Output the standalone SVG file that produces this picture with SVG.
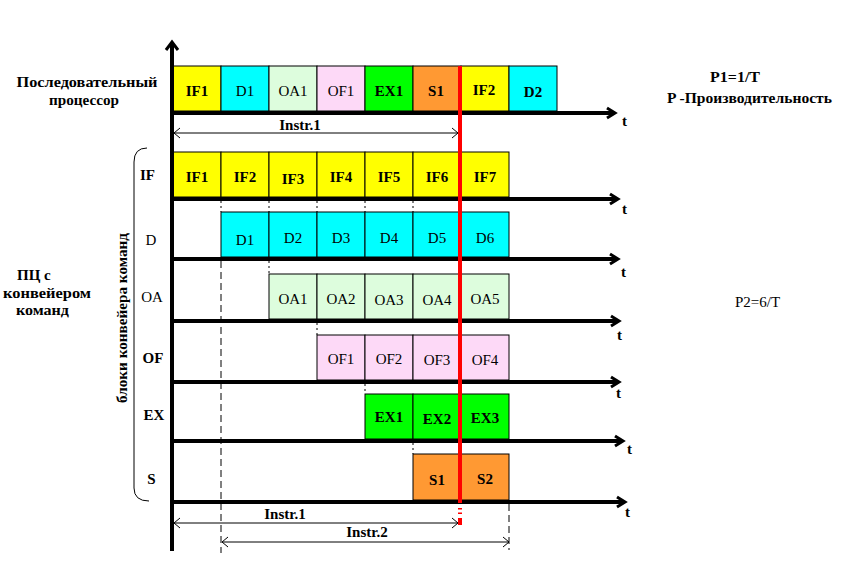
<svg xmlns="http://www.w3.org/2000/svg" width="852" height="574" viewBox="0 0 852 574">
<defs>
<style>
.cell{stroke:#000;stroke-width:1}
.y{fill:#FFFF00}.c{fill:#00FFFF}.lg{fill:#DDFDDD}.pk{fill:#FDD9F7}.g{fill:#00FF00}.o{fill:#FF9933}
text{font-family:"Liberation Serif","Times New Roman",serif;font-size:15px;fill:#000}
.b{font-weight:bold}
.m{text-anchor:middle}
.axis{stroke:#000;stroke-width:4;fill:none}
.ah{fill:none;stroke:#000;stroke-width:3}
.dot{stroke:#000;stroke-width:1;stroke-dasharray:2,3;fill:none}
.dash{stroke:#000;stroke-width:1;stroke-dasharray:7,4;fill:none}
.thin{stroke:#000;stroke-width:1;fill:none}
</style>
<marker id="open" viewBox="-8 -6 9 12" markerWidth="9" markerHeight="12" refX="0" refY="0" orient="auto-start-reverse" markerUnits="userSpaceOnUse">
<path d="M-6,-5 L0,0 L-6,5" fill="none" stroke="#000" stroke-width="1"/>
</marker>
</defs>
<rect x="0" y="0" width="852" height="574" fill="#fff"/>

<!-- Labels -->
<g id="labels">
<text class="b m" x="87" y="87" textLength="141" lengthAdjust="spacingAndGlyphs">Последовательный</text>
<text class="b m" x="84" y="105" textLength="70" lengthAdjust="spacingAndGlyphs">процессор</text>
<text class="b" x="17" y="280">ПЦ с</text>
<text class="b" x="3" y="298" textLength="88" lengthAdjust="spacingAndGlyphs">конвейером</text>
<text class="b" x="16" y="315" textLength="53" lengthAdjust="spacingAndGlyphs">команд</text>
<text class="b" x="710" y="82" textLength="50" lengthAdjust="spacingAndGlyphs">P1=1/T</text>
<text class="b" x="667" y="103" textLength="165" lengthAdjust="spacingAndGlyphs">P -Производительность</text>
<text x="735" y="307">P2=6/T</text>
<text class="b m" transform="translate(127,318) rotate(-90)" textLength="170" lengthAdjust="spacingAndGlyphs">блоки конвейера команд</text>
<text class="b m" x="147.5" y="180">IF</text>
<text class="m" x="151" y="245">D</text>
<text class="m" x="152" y="302">OA</text>
<text class="b m" x="153" y="363">OF</text>
<text class="b m" x="154" y="420">EX</text>
<text class="b m" x="151.5" y="484">S</text>
<text class="b" x="622" y="126">t</text>
<text class="b" x="622" y="214">t</text>
<text class="b" x="621" y="277">t</text>
<text class="b" x="617" y="340">t</text>
<text class="b" x="616" y="398">t</text>
<text class="b" x="627" y="454">t</text>
<text class="b" x="625" y="517">t</text>
<text class="b m" x="300" y="130">Instr.1</text>
<text class="b m" x="285" y="519">Instr.1</text>
<text class="b m" x="367" y="537">Instr.2</text>
</g>

<!-- Sequential processor row -->
<g id="seq-IF1"><rect class="cell y" x="173" y="66" width="48" height="45"/><text class="b m" x="197" y="96">IF1</text></g>
<g id="seq-D1"><rect class="cell c" x="221" y="66" width="48" height="45"/><text class="m" x="245" y="96">D1</text></g>
<g id="seq-OA1"><rect class="cell lg" x="269" y="66" width="48" height="45"/><text class="m" x="293" y="96">OA1</text></g>
<g id="seq-OF1"><rect class="cell pk" x="317" y="66" width="48" height="45"/><text class="m" x="341" y="96">OF1</text></g>
<g id="seq-EX1"><rect class="cell g" x="365" y="66" width="48" height="45"/><text class="b m" x="389" y="96">EX1</text></g>
<g id="seq-S1"><rect class="cell o" x="413" y="66" width="48" height="45"/><text class="b m" x="436" y="96">S1</text></g>
<g id="seq-IF2"><rect class="cell y" x="461" y="66" width="48" height="45"/><text class="b m" x="484" y="95">IF2</text></g>
<g id="seq-D2"><rect class="cell c" x="509" y="66" width="48" height="45"/><text class="b m" x="533" y="97">D2</text></g>

<!-- IF row -->
<g id="IF1"><rect class="cell y" x="173" y="152" width="48" height="45"/><text class="b m" x="197" y="182">IF1</text></g>
<g id="IF2"><rect class="cell y" x="221" y="152" width="48" height="45"/><text class="b m" x="245" y="182">IF2</text></g>
<g id="IF3"><rect class="cell y" x="269" y="152" width="48" height="45"/><text class="b m" x="293" y="184">IF3</text></g>
<g id="IF4"><rect class="cell y" x="317" y="152" width="48" height="45"/><text class="b m" x="341" y="182">IF4</text></g>
<g id="IF5"><rect class="cell y" x="365" y="152" width="48" height="45"/><text class="b m" x="389" y="182">IF5</text></g>
<g id="IF6"><rect class="cell y" x="413" y="152" width="48" height="45"/><text class="b m" x="437" y="182">IF6</text></g>
<g id="IF7"><rect class="cell y" x="461" y="152" width="48" height="45"/><text class="b m" x="485" y="182">IF7</text></g>

<!-- D row -->
<g id="D1"><rect class="cell c" x="221" y="212" width="48" height="45"/><text class="m" x="245" y="245">D1</text></g>
<g id="D2"><rect class="cell c" x="269" y="212" width="48" height="45"/><text class="m" x="293" y="243">D2</text></g>
<g id="D3"><rect class="cell c" x="317" y="212" width="48" height="45"/><text class="m" x="341" y="243">D3</text></g>
<g id="D4"><rect class="cell c" x="365" y="212" width="48" height="45"/><text class="m" x="389" y="243">D4</text></g>
<g id="D5"><rect class="cell c" x="413" y="212" width="48" height="45"/><text class="m" x="437" y="243">D5</text></g>
<g id="D6"><rect class="cell c" x="461" y="212" width="48" height="45"/><text class="m" x="485" y="243">D6</text></g>

<!-- OA row -->
<g id="OA1"><rect class="cell lg" x="269" y="274" width="48" height="45"/><text class="m" x="293" y="304">OA1</text></g>
<g id="OA2"><rect class="cell lg" x="317" y="274" width="48" height="45"/><text class="m" x="341" y="304">OA2</text></g>
<g id="OA3"><rect class="cell lg" x="365" y="274" width="48" height="45"/><text class="m" x="389" y="305">OA3</text></g>
<g id="OA4"><rect class="cell lg" x="413" y="274" width="48" height="45"/><text class="m" x="437" y="305">OA4</text></g>
<g id="OA5"><rect class="cell lg" x="461" y="274" width="48" height="45"/><text class="m" x="485" y="304">OA5</text></g>

<!-- OF row -->
<g id="OF1"><rect class="cell pk" x="317" y="335" width="48" height="45"/><text class="m" x="341" y="364">OF1</text></g>
<g id="OF2"><rect class="cell pk" x="365" y="335" width="48" height="45"/><text class="m" x="389" y="364">OF2</text></g>
<g id="OF3"><rect class="cell pk" x="413" y="335" width="48" height="45"/><text class="m" x="437" y="365">OF3</text></g>
<g id="OF4"><rect class="cell pk" x="461" y="335" width="48" height="45"/><text class="m" x="485" y="365">OF4</text></g>

<!-- EX row -->
<g id="EX1"><rect class="cell g" x="365" y="394" width="48" height="45"/><text class="b m" x="389" y="422">EX1</text></g>
<g id="EX2"><rect class="cell g" x="413" y="394" width="48" height="45"/><text class="b m" x="437" y="424">EX2</text></g>
<g id="EX3"><rect class="cell g" x="461" y="394" width="48" height="45"/><text class="b m" x="485" y="423">EX3</text></g>

<!-- S row -->
<g id="S1"><rect class="cell o" x="413" y="454" width="48" height="46"/><text class="b m" x="437" y="485">S1</text></g>
<g id="S2"><rect class="cell o" x="461" y="454" width="48" height="46"/><text class="b m" x="485" y="484">S2</text></g>

<!-- Connectors -->
<g id="connectors">
<line class="axis" x1="172" y1="44" x2="172" y2="551"/>
<path class="ah" d="M166,50 L172,42 L178,50"/>
<line class="axis" x1="170" y1="113" x2="613" y2="113"/><path class="ah" d="M607,108 L615,113 L607,118"/>
<line class="axis" x1="170" y1="199" x2="616" y2="199"/><path class="ah" d="M610,194 L618,199 L610,204"/>
<line class="axis" x1="170" y1="259" x2="616" y2="259"/><path class="ah" d="M610,254 L618,259 L610,264"/>
<line class="axis" x1="170" y1="321" x2="617" y2="321"/><path class="ah" d="M611,316 L619,321 L611,326"/>
<line class="axis" x1="170" y1="382" x2="617" y2="382"/><path class="ah" d="M611,377 L619,382 L611,387"/>
<line class="axis" x1="170" y1="441" x2="621" y2="441"/><path class="ah" d="M615,436 L623,441 L615,446"/>
<line class="axis" x1="170" y1="502" x2="623" y2="502"/><path class="ah" d="M617,497 L625,502 L617,507"/>
<path class="dot" d="M221,201 V212 M269,201 V212 M317,201 V212 M365,201 V212 M413,201 V212 M269,261 V274 M317,323 V335 M365,384 V394 M413,443 V454"/>
<line class="dash" x1="221" y1="261" x2="221" y2="553"/>
<line class="dash" x1="509" y1="504" x2="509" y2="550"/>
<path class="thin" d="M147,148 Q134,148 134,162 L134,488 Q134,501 149,501"/>
<line class="thin" x1="174" y1="133" x2="458" y2="133" marker-start="url(#open)" marker-end="url(#open)"/>
<line class="thin" x1="174" y1="523" x2="458" y2="523" marker-start="url(#open)" marker-end="url(#open)"/>
<line class="thin" x1="222" y1="542" x2="509" y2="542" marker-start="url(#open)" marker-end="url(#open)"/>
<line x1="460" y1="66" x2="460" y2="503" stroke="#FF0000" stroke-width="4"/>
<rect x="458" y="508" width="4" height="1.5" fill="#FF0000"/>
<rect x="458" y="512.5" width="4" height="1.5" fill="#FF0000"/>
<rect x="458" y="518" width="4" height="7" fill="#FF0000"/>
</g>
</svg>
